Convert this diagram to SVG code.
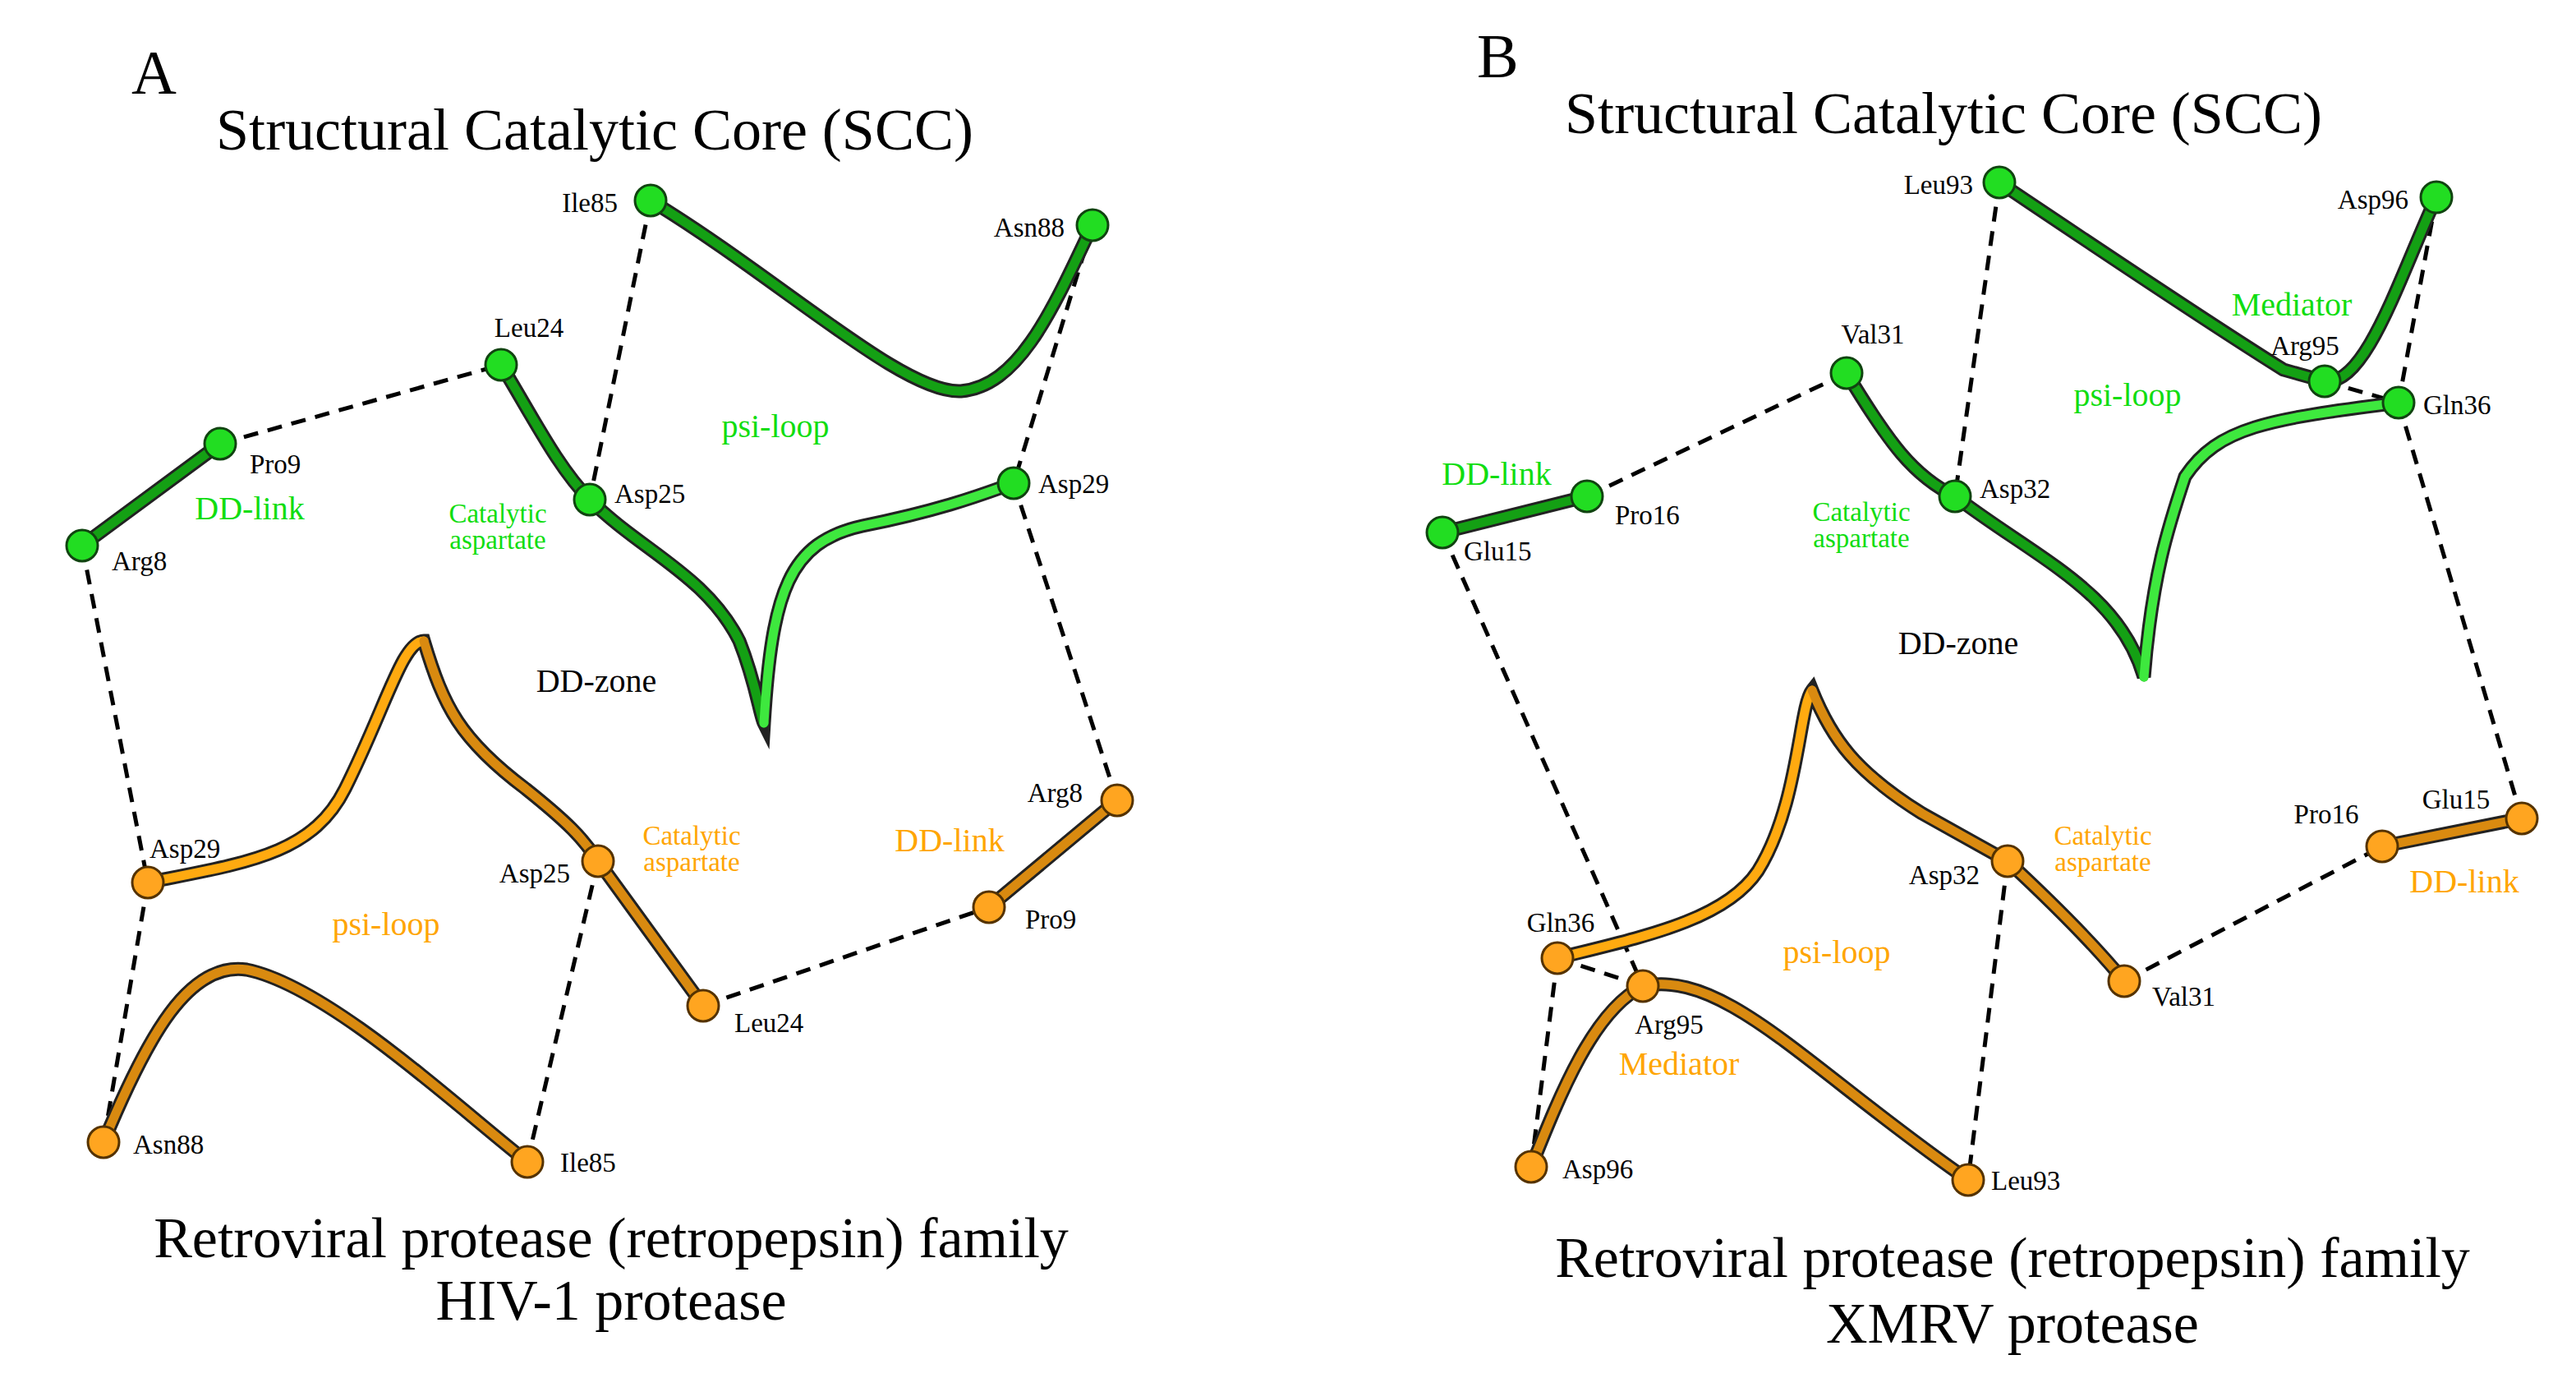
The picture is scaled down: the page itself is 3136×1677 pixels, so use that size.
<svg xmlns="http://www.w3.org/2000/svg" width="3136" height="1677" viewBox="0 0 3136 1677" font-family="'Liberation Serif','Times New Roman','DejaVu Serif',serif">
<style>
text{font-family:"Liberation Serif","Times New Roman","DejaVu Serif",serif;}
.t{font-size:72px;text-anchor:middle;fill:#000}
.p{font-size:76px;fill:#000}
.b{font-size:70px;text-anchor:middle;fill:#000}
.l{font-size:33px;fill:#000}
.g{fill:#11dd11}
.o{fill:#ffa500}
.c{font-size:40px;text-anchor:middle}
.c2{font-size:33px;text-anchor:middle}
.d{stroke:#000;stroke-width:5;stroke-dasharray:18 12;fill:none}
.e{fill:none;stroke:#222;stroke-width:17;stroke-linecap:round}
.gd{fill:none;stroke:#14a014;stroke-width:11;stroke-linecap:round}
.gl{fill:none;stroke:#3ee83e;stroke-width:11;stroke-linecap:round}
.od{fill:none;stroke:#d98a10;stroke-width:11;stroke-linecap:round}
.ol{fill:none;stroke:#ffaa10;stroke-width:11;stroke-linecap:round}
.ng{fill:#22dd22;stroke:#114411;stroke-width:3}
.no{fill:#ffa520;stroke:#553300;stroke-width:3}
</style>
<rect width="3136" height="1677" fill="#fff"/>
<g id="connectors">
<line class="d" x1="268" y1="540" x2="610" y2="444"/>
<line class="d" x1="792" y1="244" x2="718" y2="608"/>
<line class="d" x1="1330" y1="274" x2="1234" y2="588"/>
<line class="d" x1="100" y1="664" x2="180" y2="1074"/>
<line class="d" x1="180" y1="1074" x2="126" y2="1390"/>
<line class="d" x1="728" y1="1048" x2="642" y2="1414"/>
<line class="d" x1="856" y1="1224" x2="1204" y2="1104"/>
<line class="d" x1="1360" y1="974" x2="1234" y2="588"/>
<line class="d" x1="1932" y1="604" x2="2248" y2="454"/>
<line class="d" x1="2434" y1="222" x2="2380" y2="604"/>
<line class="d" x1="2966" y1="240" x2="2920" y2="490"/>
<line class="d" x1="2830" y1="464" x2="2920" y2="490"/>
<line class="d" x1="2920" y1="490" x2="3070" y2="996"/>
<line class="d" x1="1756" y1="648" x2="2000" y2="1200"/>
<line class="d" x1="2444" y1="1048" x2="2396" y2="1436"/>
<line class="d" x1="2586" y1="1194" x2="2900" y2="1030"/>
<line class="d" x1="1896" y1="1166" x2="1864" y2="1420"/>
<line class="d" x1="1896" y1="1166" x2="2000" y2="1200"/>
</g>
<g id="tubesA">
<path class="e" d="M100,664 L268,540"/><path class="gd" d="M100,664 L268,540"/>
<path class="e" d="M792,244 C950,340 1100,480 1170,476 C1240,470 1280,380 1330,274"/><path class="gd" d="M792,244 C950,340 1100,480 1170,476 C1240,470 1280,380 1330,274"/>
<path class="e" d="M610,444 C650,510 680,570 718,608 C780,670 860,700 900,780 C920,830 925,870 930,880 C940,720 960,660 1050,640 C1150,620 1200,600 1234,588"/>
<path class="gd" d="M610,444 C650,510 680,570 718,608 C780,670 860,700 900,780 C920,830 925,870 930,880"/>
<path class="gl" d="M930,880 C940,720 960,660 1050,640 C1150,620 1200,600 1234,588"/>
<path class="e" d="M180,1074 C300,1050 380,1040 420,960 C470,860 490,780 516,780 C540,860 560,900 640,960 C690,1000 710,1020 728,1048 L856,1224"/>
<path class="ol" d="M180,1074 C300,1050 380,1040 420,960 C470,860 490,780 516,780"/>
<path class="od" d="M516,780 C540,860 560,900 640,960 C690,1000 710,1020 728,1048 L856,1224"/>
<path class="e" d="M126,1390 C180,1260 230,1170 300,1180 C400,1200 560,1350 642,1414"/><path class="od" d="M126,1390 C180,1260 230,1170 300,1180 C400,1200 560,1350 642,1414"/>
<path class="e" d="M1204,1104 L1360,974"/><path class="od" d="M1204,1104 L1360,974"/>
</g>
<g id="tubesB">
<path class="e" d="M1756,648 L1932,604"/><path class="gd" d="M1756,648 L1932,604"/>
<path class="e" d="M2434,222 C2550,300 2700,400 2780,450 L2830,464 C2880,470 2920,340 2966,240"/><path class="gd" d="M2434,222 C2550,300 2700,400 2780,450 L2830,464 C2880,470 2920,340 2966,240"/>
<path class="e" d="M2248,454 C2300,540 2330,580 2380,604 C2480,680 2580,720 2610,824 C2620,700 2640,640 2660,580 C2700,520 2760,510 2920,490"/>
<path class="gd" d="M2248,454 C2300,540 2330,580 2380,604 C2480,680 2580,720 2610,824"/>
<path class="gl" d="M2610,824 C2620,700 2640,640 2660,580 C2700,520 2760,510 2920,490"/>
<path class="e" d="M1896,1166 C2000,1140 2100,1120 2140,1060 C2190,980 2190,860 2206,840 C2230,900 2260,940 2340,990 L2444,1048 C2500,1100 2550,1150 2586,1194"/>
<path class="ol" d="M1896,1166 C2000,1140 2100,1120 2140,1060 C2190,980 2190,860 2206,840"/>
<path class="od" d="M2206,840 C2230,900 2260,940 2340,990 L2444,1048 C2500,1100 2550,1150 2586,1194"/>
<path class="e" d="M1864,1420 C1900,1330 1940,1230 2000,1200 C2100,1180 2200,1300 2396,1436"/><path class="od" d="M1864,1420 C1900,1330 1940,1230 2000,1200 C2100,1180 2200,1300 2396,1436"/>
<path class="e" d="M2900,1030 L3070,996"/><path class="od" d="M2900,1030 L3070,996"/>
</g>
<g id="nodesA">
<circle class="ng" cx="792" cy="244" r="19"/><circle class="ng" cx="1330" cy="274" r="19"/>
<circle class="ng" cx="610" cy="444" r="19"/><circle class="ng" cx="718" cy="608" r="19"/>
<circle class="ng" cx="1234" cy="588" r="19"/><circle class="ng" cx="268" cy="540" r="19"/>
<circle class="ng" cx="100" cy="664" r="19"/>
<circle class="no" cx="180" cy="1074" r="19"/><circle class="no" cx="728" cy="1048" r="19"/>
<circle class="no" cx="856" cy="1224" r="19"/><circle class="no" cx="126" cy="1390" r="19"/>
<circle class="no" cx="642" cy="1414" r="19"/><circle class="no" cx="1204" cy="1104" r="19"/>
<circle class="no" cx="1360" cy="974" r="19"/>
</g>
<g id="nodesB">
<circle class="ng" cx="2434" cy="222" r="19"/><circle class="ng" cx="2966" cy="240" r="19"/>
<circle class="ng" cx="2830" cy="464" r="19"/><circle class="ng" cx="2920" cy="490" r="19"/>
<circle class="ng" cx="2248" cy="454" r="19"/><circle class="ng" cx="2380" cy="604" r="19"/>
<circle class="ng" cx="1932" cy="604" r="19"/><circle class="ng" cx="1756" cy="648" r="19"/>
<circle class="no" cx="1896" cy="1166" r="19"/><circle class="no" cx="2000" cy="1200" r="19"/>
<circle class="no" cx="1864" cy="1420" r="19"/><circle class="no" cx="2444" cy="1048" r="19"/>
<circle class="no" cx="2586" cy="1194" r="19"/><circle class="no" cx="2396" cy="1436" r="19"/>
<circle class="no" cx="2900" cy="1030" r="19"/><circle class="no" cx="3070" cy="996" r="19"/>
</g>
<g id="textA">
<text class="p" x="160" y="114">A</text>
<text class="t" x="724" y="182">Structural Catalytic Core (SCC)</text>
<text class="l" x="752" y="258" text-anchor="end">Ile85</text>
<text class="l" x="1296" y="288" text-anchor="end">Asn88</text>
<text class="l" x="644" y="410" text-anchor="middle">Leu24</text>
<text class="l" x="748" y="612">Asp25</text>
<text class="l" x="1264" y="600">Asp29</text>
<text class="l" x="304" y="576">Pro9</text>
<text class="l" x="136" y="694">Arg8</text>
<text class="c g" x="304" y="632">DD-link</text>
<text class="c2 g" x="606" y="636">Catalytic</text>
<text class="c2 g" x="606" y="668">aspartate</text>
<text class="c g" x="944" y="532">psi-loop</text>
<text class="c" x="726" y="842" fill="#000">DD-zone</text>
<text class="l" x="182" y="1044">Asp29</text>
<text class="l" x="694" y="1074" text-anchor="end">Asp25</text>
<text class="c2 o" x="842" y="1028">Catalytic</text>
<text class="c2 o" x="842" y="1060">aspartate</text>
<text class="c o" x="1156" y="1036">DD-link</text>
<text class="l" x="1318" y="976" text-anchor="end">Arg8</text>
<text class="l" x="1248" y="1130">Pro9</text>
<text class="c o" x="470" y="1138">psi-loop</text>
<text class="l" x="894" y="1256">Leu24</text>
<text class="l" x="162" y="1404">Asn88</text>
<text class="l" x="682" y="1426">Ile85</text>
<text class="b" x="744" y="1530">Retroviral protease (retropepsin) family</text>
<text class="b" x="744" y="1606">HIV-1 protease</text>
</g>
<g id="textB">
<text class="p" x="1798" y="94">B</text>
<text class="t" x="2366" y="162">Structural Catalytic Core (SCC)</text>
<text class="l" x="2402" y="236" text-anchor="end">Leu93</text>
<text class="l" x="2932" y="254" text-anchor="end">Asp96</text>
<text class="c g" x="2790" y="384">Mediator</text>
<text class="l" x="2806" y="432" text-anchor="middle">Arg95</text>
<text class="l" x="2950" y="504">Gln36</text>
<text class="l" x="2280" y="418" text-anchor="middle">Val31</text>
<text class="l" x="2410" y="606">Asp32</text>
<text class="l" x="1966" y="638">Pro16</text>
<text class="l" x="1782" y="682">Glu15</text>
<text class="c g" x="1822" y="590">DD-link</text>
<text class="c g" x="2590" y="494">psi-loop</text>
<text class="c2 g" x="2266" y="634">Catalytic</text>
<text class="c2 g" x="2266" y="666">aspartate</text>
<text class="c" x="2384" y="796" fill="#000">DD-zone</text>
<text class="l" x="1900" y="1134" text-anchor="middle">Gln36</text>
<text class="l" x="2032" y="1258" text-anchor="middle">Arg95</text>
<text class="c o" x="2044" y="1308">Mediator</text>
<text class="l" x="1902" y="1434">Asp96</text>
<text class="c o" x="2236" y="1172">psi-loop</text>
<text class="l" x="2410" y="1076" text-anchor="end">Asp32</text>
<text class="c2 o" x="2560" y="1028">Catalytic</text>
<text class="c2 o" x="2560" y="1060">aspartate</text>
<text class="l" x="2620" y="1224">Val31</text>
<text class="l" x="2424" y="1448">Leu93</text>
<text class="l" x="2832" y="1002" text-anchor="middle">Pro16</text>
<text class="l" x="2990" y="984" text-anchor="middle">Glu15</text>
<text class="c o" x="3000" y="1086">DD-link</text>
<text class="b" x="2450" y="1554">Retroviral protease (retropepsin) family</text>
<text class="b" x="2450" y="1634">XMRV protease</text>
</g>
</svg>
